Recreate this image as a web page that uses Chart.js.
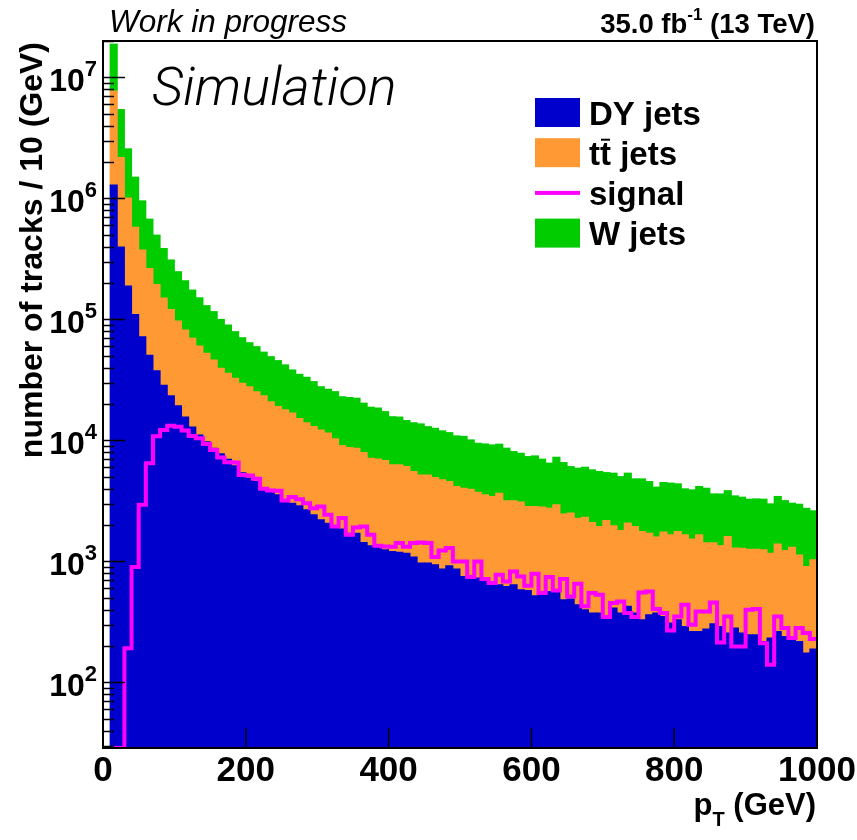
<!DOCTYPE html>
<html>
<head>
<meta charset="utf-8">
<script src="https://cdn.jsdelivr.net/npm/chart.js@4.4.0/dist/chart.umd.min.js"></script>
<style>
  html, body { margin: 0; padding: 0; background: #fff; }
  #wrap { width: 857px; height: 840px; position: relative; }
</style>
</head>
<body>
<div id="wrap"><canvas id="myChart"></canvas></div>
<script>
// p_T histogram, 100 bins of 10 GeV (bin 0 = 0-10 GeV)
var binWidth = 10;
var nBins = 100;

var dyJets = [
  0, 1290000, 396000, 189000, 110000, 71900, 50600, 37700, 28600, 23400,
  19300, 15600, 12900, 11100, 9770, 8630, 7740, 7000, 6170, 5400,
  4880, 4570, 3950, 3710, 3550, 3230, 3030, 2880, 2670, 2430,
  2210, 2070, 1880, 1850, 1710, 1710, 1430, 1350, 1330, 1250,
  1210, 1190, 1170, 1090, 968, 968, 938, 864, 920, 864,
  750, 714, 728, 682, 662, 641, 621, 641, 583, 575,
  520, 530, 565, 553, 482, 489, 438, 398, 374, 374,
  351, 412, 374, 425, 374, 330, 362, 374, 351, 310,
  330, 290, 264, 264, 276, 305, 290, 256, 281, 256,
  248, 248, 218, 233, 264, 240, 240, 218, 175, 189
];

var ttJets = [
  0, 6450000, 1780000, 821000, 467000, 302000, 213000, 157000, 122000, 97600,
  77700, 66200, 56900, 49300, 42700, 37600, 31800, 28900, 26500, 24300,
  22900, 20700, 19400, 17200, 15500, 14700, 13800, 12300, 11300, 10600,
  9990, 9430, 8420, 7210, 7020, 6920, 6500, 5780, 5700, 5560,
  5070, 5090, 4910, 4440, 4220, 4220, 3990, 3860, 3650, 3300,
  3280, 3240, 3000, 2870, 2780, 3020, 2550, 2530, 2510, 2270,
  2320, 2280, 2190, 2390, 1980, 2020, 1840, 1920, 1720, 1570,
  1830, 1560, 1430, 1650, 1570, 1440, 1350, 1220, 1400, 1350,
  1440, 1370, 1270, 1400, 1150, 1120, 1060, 1350, 1010, 1030,
  1010, 1010, 1030, 937, 1130, 990, 1070, 912, 733, 841
];

var wJets = [
  0, 11100000, 3250000, 1560000, 923000, 581000, 411000, 303000, 235000, 189000,
  151000, 127000, 105000, 90600, 77500, 69800, 60500, 54000, 46600, 40900,
  36500, 34300, 30300, 28300, 26600, 24200, 21400, 20000, 19300, 17600,
  15600, 15000, 15000, 13900, 13900, 13700, 12400, 11700, 11500, 10500,
  9420, 9320, 8520, 8470, 8510, 7810, 7670, 7280, 7030, 6740,
  6770, 6150, 5750, 5800, 5740, 5650, 5460, 4920, 4740, 4510,
  4610, 4190, 3740, 4320, 4100, 3570, 3620, 3690, 3620, 3590,
  3240, 3390, 3220, 3290, 2870, 3040, 2860, 2520, 2740, 2780,
  2610, 2320, 2370, 2500, 2600, 2190, 2260, 2240, 2190, 2110,
  2010, 2030, 2020, 1820, 2050, 1950, 1720, 1840, 1840, 1590
];

var signal = [
  0, 0, 0, 192, 898, 2940, 6490, 10800, 12200, 13200,
  13000, 12100, 10900, 10400, 9350, 8350, 7210, 6610, 6560, 5190,
  5120, 4810, 3980, 3850, 3830, 3180, 3400, 3270, 3030, 2750,
  2840, 2430, 1940, 2280, 1660, 1910, 1940, 1660, 1350, 1330,
  1320, 1420, 1320, 1420, 1430, 1420, 1090, 1230, 1290, 998,
  998, 742, 998, 714, 662, 775, 682, 826, 750, 629,
  790, 547, 742, 575, 714, 513, 653, 425, 547, 530,
  347, 453, 467, 374, 347, 553, 565, 404, 374, 269,
  350, 438, 300, 386, 386, 458, 214, 350, 198, 198,
  398, 404, 211, 140, 350, 281, 233, 281, 256, 228
];

var xTicks = [0, 200, 400, 600, 800, 1000];
var yExponents = [2, 3, 4, 5, 6, 7];
var yMin = 28.7, yMax = 2.0e7;

var FONT = '"Liberation Sans", Arial, sans-serif';

function barData(values) {
  return values.map(function (v, i) {
    return { x: i * binWidth + binWidth / 2, y: v > 0 ? v : null };
  });
}

// step outline: one point per lower bin edge, plus the last upper edge
function stepData(values) {
  var pts = values.map(function (v, i) {
    return { x: i * binWidth, y: Math.max(v, yMin) };
  });
  pts.push({ x: nBins * binWidth, y: Math.max(values[values.length - 1], yMin) });
  return pts;
}

var barCommon = {
  type: 'bar', stack: 'bg', barPercentage: 1, categoryPercentage: 1,
  borderWidth: 0, inflateAmount: 0.5, order: 1
};

var datasets = [
  Object.assign({ label: 'DY jets', data: barData(dyJets), backgroundColor: '#0000cc' }, barCommon),
  Object.assign({ label: 'tt\u0304 jets', data: barData(ttJets), backgroundColor: '#ff9933' }, barCommon),
  Object.assign({ label: 'W jets', data: barData(wJets), backgroundColor: '#00cc00' }, barCommon),
  {
    type: 'line', label: 'signal', data: stepData(signal), stack: 'sig',
    borderColor: '#ff00ff', borderWidth: 4, pointRadius: 0, stepped: true, fill: false, order: 0
  }
];

var legendOrder = ['DY jets', 'tt\u0304 jets', 'signal', 'W jets'];

// text with U+0304 drawn as a bar above the preceding character
function drawMarked(ctx, str, x, y) {
  for (var i = 0; i < str.length; i++) {
    var ch = str[i];
    if (ch === '\u0304') continue;
    var w = ctx.measureText(ch).width;
    ctx.fillText(ch, x, y);
    if (str[i + 1] === '\u0304') {
      ctx.fillRect(x + 1, y - 26, w - 2, 2);
    }
    x += w;
  }
}

var decor = {
  id: 'decor',
  afterDatasetsDraw: function (chart) {
    var ctx = chart.ctx, a = chart.chartArea;
    var xs = chart.scales.x, ys = chart.scales.y;
    ctx.save();
    ctx.strokeStyle = '#000';
    ctx.lineWidth = 1.5;
    ctx.beginPath();
    for (var e = 1; e <= 7; e++) {
      for (var m = 1; m <= 9; m++) {
        var v = m * Math.pow(10, e);
        if (v < yMin || v > yMax) continue;
        var py = Math.round(ys.getPixelForValue(v)) + 0.5;
        var len = m === 1 ? 22 : 11;
        ctx.moveTo(a.left, py);
        ctx.lineTo(a.left + len, py);
      }
    }
    xTicks.forEach(function (t) {
      var px = xs.getPixelForValue(t);
      ctx.moveTo(px, a.bottom);
      ctx.lineTo(px, a.bottom - 20);
    });
    ctx.stroke();
    ctx.lineWidth = 2;
    ctx.strokeRect(a.left, a.top, a.right - a.left, a.bottom - a.top);
    ctx.restore();
  },
  afterDraw: function (chart) {
    var ctx = chart.ctx;
    var ys = chart.scales.y;
    ctx.save();
    ctx.fillStyle = '#000';
    ctx.textBaseline = 'alphabetic';

    // y tick labels 10^n
    yExponents.forEach(function (e) {
      var py = ys.getPixelForValue(Math.pow(10, e));
      ctx.font = 'bold 22px ' + FONT;
      var ws = ctx.measureText(String(e)).width;
      ctx.font = 'bold 32px ' + FONT;
      var wb = ctx.measureText('10').width;
      var x0 = 97 - ws - wb;
      ctx.fillText('10', x0, py + 14);
      ctx.font = 'bold 22px ' + FONT;
      ctx.fillText(String(e), x0 + wb, py - 1);
    });

    // y title
    ctx.save();
    ctx.translate(42, 42);
    ctx.rotate(-Math.PI / 2);
    ctx.textAlign = 'right';
    ctx.font = 'bold 32px ' + FONT;
    ctx.fillText('number of tracks / 10 (GeV)', 0, 0);
    ctx.restore();

    // x title p_T (GeV)
    ctx.font = 'bold 31px ' + FONT;
    var rest = ' (GeV)';
    var wr = ctx.measureText(rest).width;
    var wp = ctx.measureText('p').width;
    ctx.font = 'bold 20px ' + FONT;
    var wt = ctx.measureText('T').width;
    var xr = 816;
    ctx.font = 'bold 31px ' + FONT;
    ctx.fillText(rest, xr - wr, 815);
    ctx.fillText('p', xr - wr - wt - wp, 815);
    ctx.font = 'bold 20px ' + FONT;
    ctx.fillText('T', xr - wr - wt, 826);

    // header
    ctx.font = 'italic 31.5px ' + FONT;
    ctx.fillText('Work in progress', 109, 32);
    ctx.font = 'bold 27.5px ' + FONT;
    var tail = ' (13 TeV)';
    var wTail = ctx.measureText(tail).width;
    var wHead = ctx.measureText('35.0 fb').width;
    ctx.font = 'bold 17px ' + FONT;
    var wSup = ctx.measureText('-1').width;
    var xh = 815 - wTail - wSup - wHead;
    ctx.font = 'bold 27.5px ' + FONT;
    ctx.fillText('35.0 fb', xh, 33);
    ctx.fillText(tail, xh + wHead + wSup, 33);
    ctx.font = 'bold 17px ' + FONT;
    ctx.fillText('-1', xh + wHead, 20);

    // Simulation label
    ctx.font = 'italic 300 54px Roboto, ' + FONT;
    ctx.fillText('Simulation', 152, 105);

    // legend
    legendOrder.forEach(function (label, i) {
      var ds = chart.data.datasets.filter(function (d) { return d.label === label; })[0];
      var cy = 112.5 + i * 40.2;
      if (ds.type === 'line') {
        ctx.fillStyle = ds.borderColor;
        ctx.fillRect(535, cy - 2, 45, 4);
      } else {
        ctx.fillStyle = ds.backgroundColor;
        ctx.fillRect(535, cy - 14.5, 45, 29);
      }
      ctx.fillStyle = '#000';
      ctx.font = 'bold 33px ' + FONT;
      drawMarked(ctx, label, 589, cy + 12);
    });
    ctx.restore();
  }
};

var ctx = document.getElementById('myChart').getContext('2d');
var chart = new Chart(ctx, {
  data: { datasets: datasets },
  options: {
    responsive: true,
    maintainAspectRatio: false,
    animation: false,
    layout: { padding: { left: 0, right: 40, top: 41, bottom: 0 } },
    plugins: { legend: { display: false }, tooltip: { enabled: false } },
    scales: {
      x: {
        type: 'linear',
        min: 0,
        max: 1000,
        offset: false,
        stacked: true,
        grid: { display: false, offset: false },
        border: { display: false },
        afterBuildTicks: function (scale) {
          scale.ticks = xTicks.map(function (v) { return { value: v }; });
        },
        afterFit: function (scale) {
          scale.height = 92;
          scale.paddingLeft = 0;
          scale.paddingRight = 0;
        },
        ticks: {
          color: '#000',
          font: { family: FONT, size: 35, weight: 'bold' },
          maxRotation: 0,
          autoSkip: false,
          padding: -6,
          callback: function (v) { return String(v); }
        }
      },
      y: {
        type: 'logarithmic',
        min: yMin,
        max: yMax,
        stacked: true,
        grid: { display: false },
        border: { display: false },
        ticks: { display: false },
        afterFit: function (scale) {
          scale.width = 103;
          scale.paddingTop = 0;
          scale.paddingBottom = 0;
        }
      }
    }
  },
  plugins: [decor]
});
</script>
</body>
</html>
